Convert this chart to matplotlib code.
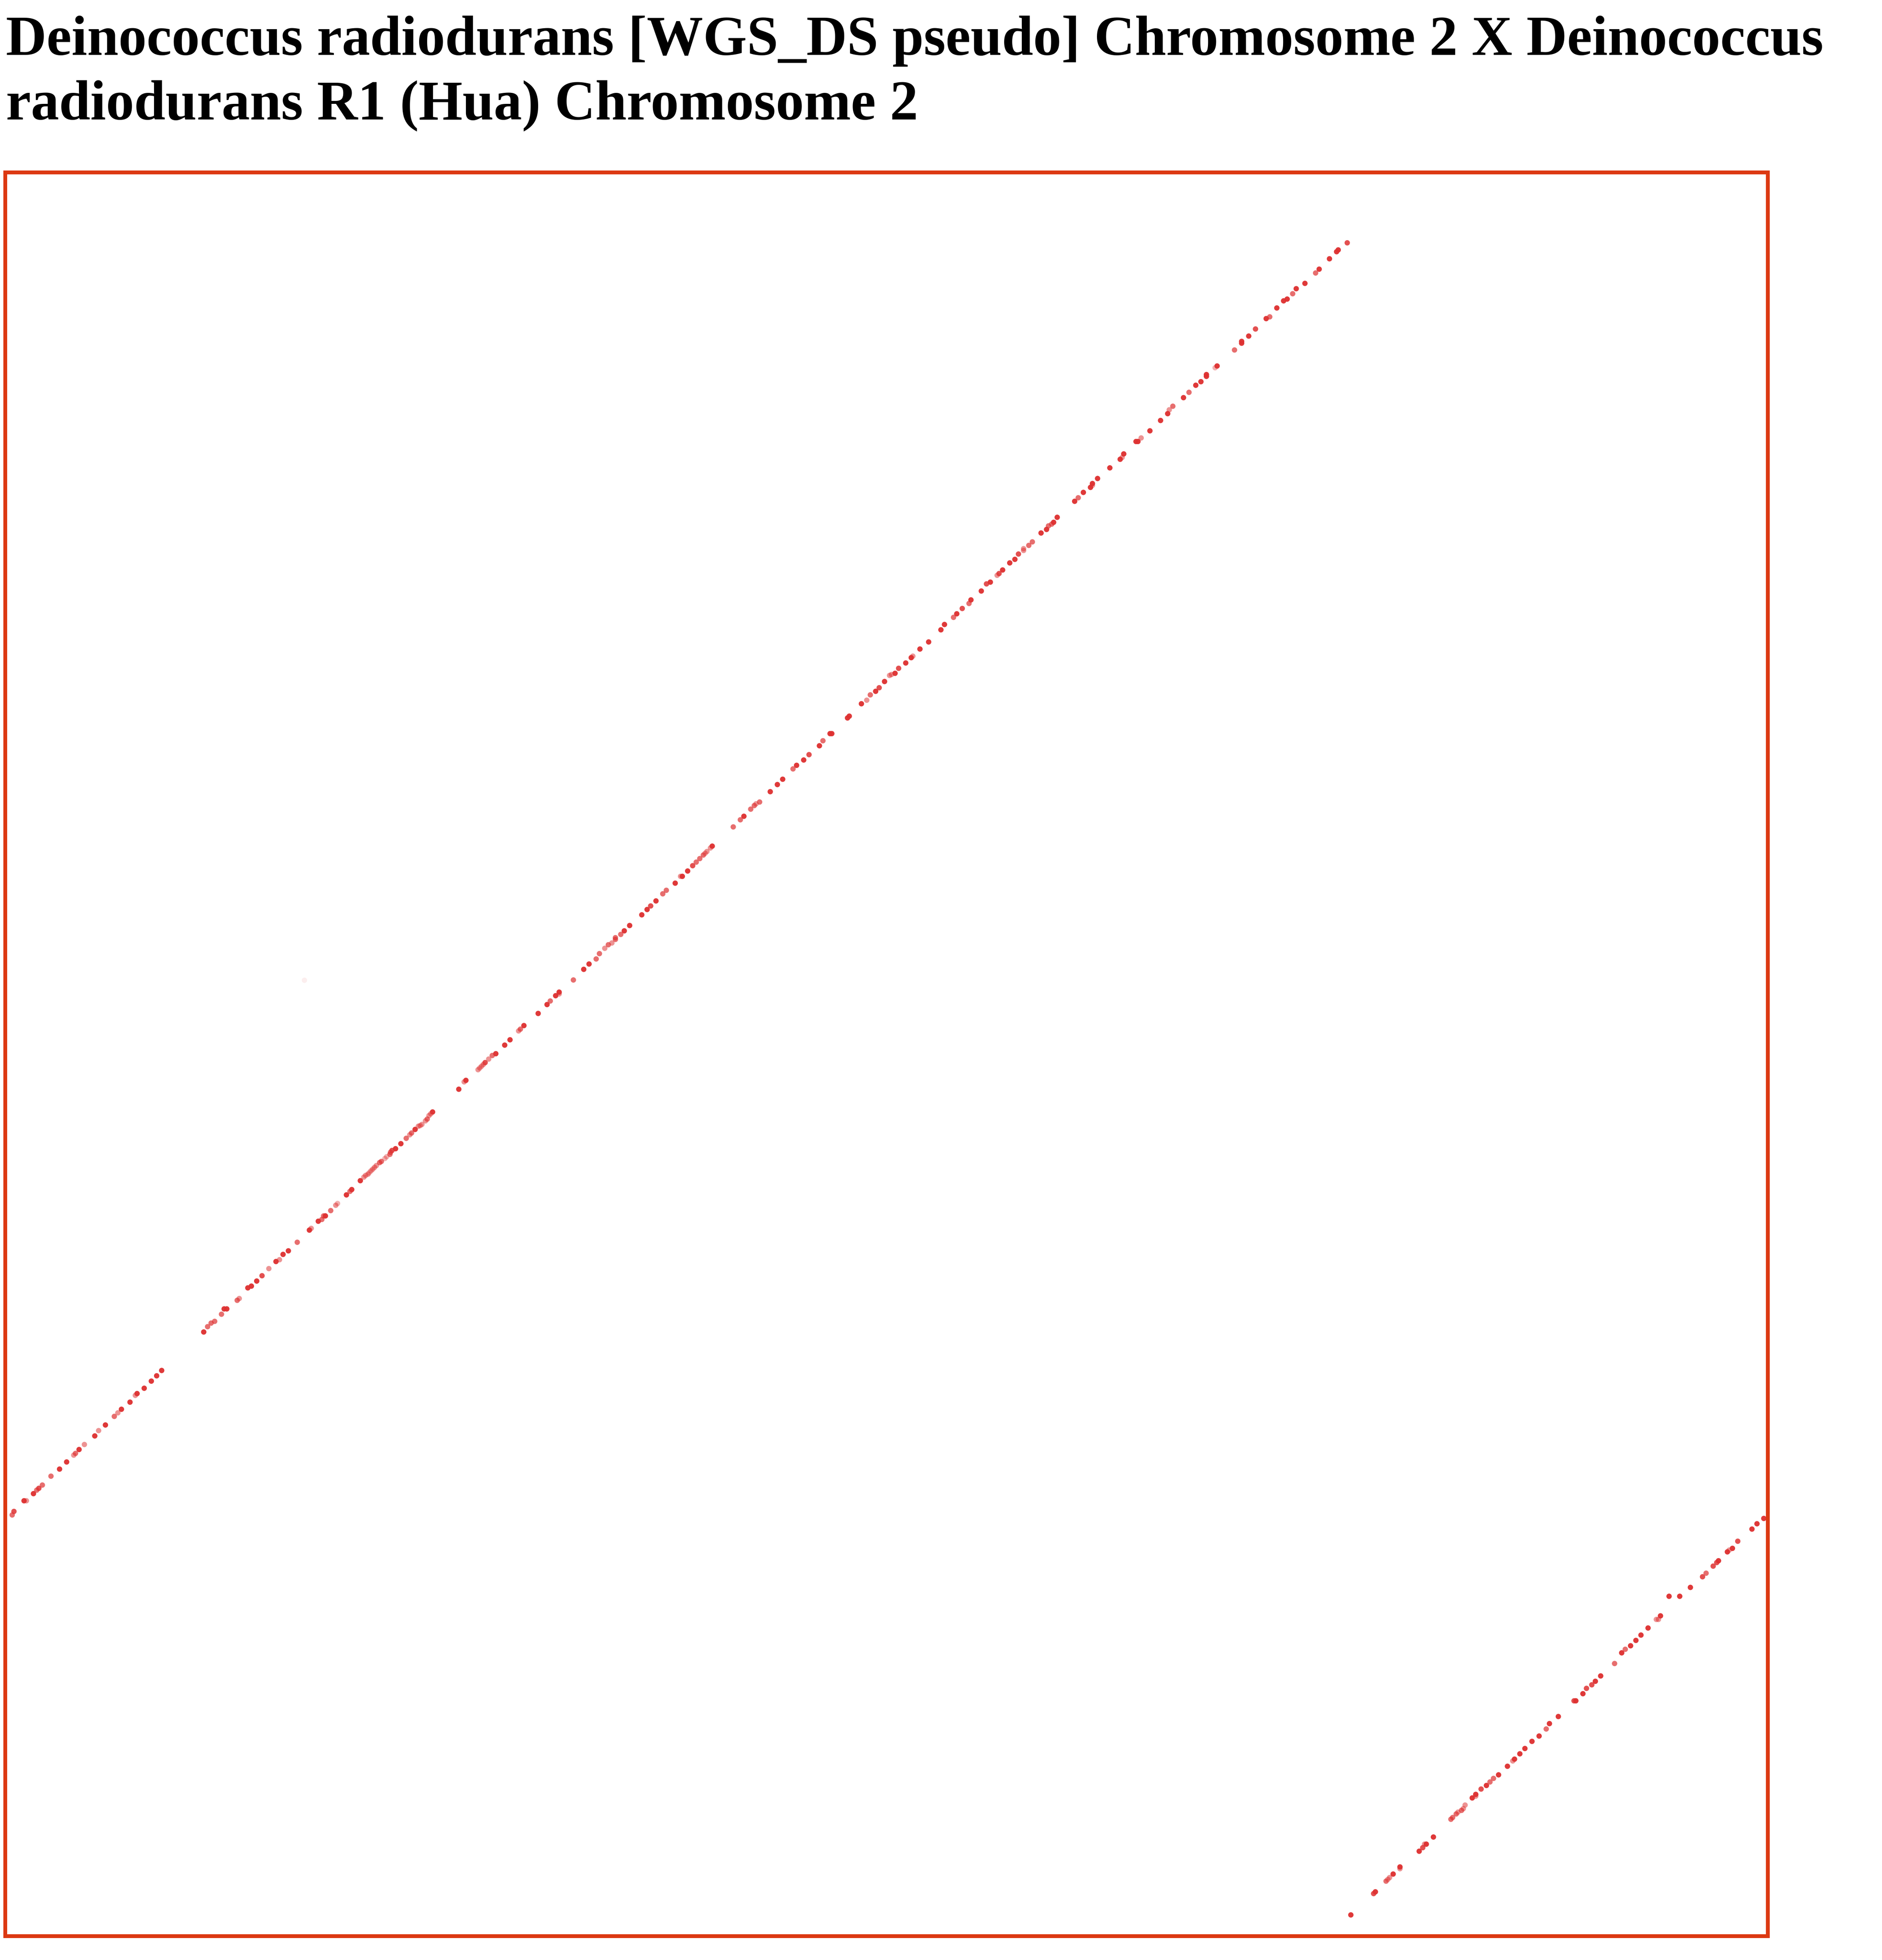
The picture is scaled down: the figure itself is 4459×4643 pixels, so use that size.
import numpy as np
import matplotlib
matplotlib.use("Agg")
from matplotlib import pyplot as plt

title_lines = ["Deinococcus radiodurans [WGS_DS pseudo] Chromosome 2 X Deinococcus",
               "radiodurans R1 (Hua) Chromosome 2"]

# axis extents in kb (query on x, reference on y)
x_len_kb = 410.8
y_len_kb = 411.0

# long syntenic block, part 1 (kb)
blk1_x = [1.66, 2.07, 4.42, 4.97, 6.62, 7.38, 7.87, 8.69, 10.70, 12.70, 14.35, 16.01, 16.42, 17.25, 18.49,
          20.91, 21.80, 23.39, 25.46, 26.29, 27.12, 29.12, 30.36, 30.77, 32.43, 34.09, 35.33, 36.50, 46.30,
          47.20, 48.02, 48.85, 50.44, 51.06, 51.68, 54.10, 54.58, 56.58, 57.41, 58.65, 59.89, 61.48, 63.14,
          63.96, 64.79, 66.03, 68.10, 70.93, 71.35, 73.00, 73.83, 74.24, 74.66, 75.90, 77.07, 77.49, 79.56,
          80.39, 80.80, 82.80, 83.63, 84.04, 84.59, 84.87, 85.28, 85.70, 86.11, 86.53, 87.29, 87.70, 88.53,
          88.94, 89.70, 89.84, 90.18, 91.01, 92.25, 93.50, 94.32, 94.74, 95.57, 96.32, 96.74, 97.15, 97.98,
          98.39, 98.81, 99.22, 99.64]
blk1_y = [98.10, 98.93, 101.41, 101.41, 103.07, 103.89, 104.31, 105.07, 107.14, 108.79, 110.45, 112.04,
          112.45, 113.35, 114.52, 116.52, 117.76, 119.07, 121.07, 121.90, 122.73, 124.39, 125.97, 126.39,
          127.63, 129.29, 130.53, 131.77, 140.74, 141.98, 142.81, 143.22, 144.88, 146.12, 146.12, 148.12,
          148.54, 151.02, 151.43, 152.61, 153.85, 155.51, 157.16, 157.58, 158.82, 159.65, 161.65, 164.48,
          164.89, 166.55, 166.96, 167.79, 167.79, 169.03, 170.27, 170.69, 172.69, 173.51, 173.93, 176.00,
          176.83, 177.24, 177.52, 177.86, 178.28, 178.69, 179.10, 179.52, 180.21, 180.48, 181.17, 181.59,
          182.14, 182.62, 183.04, 183.45, 184.62, 185.87, 186.69, 187.11, 187.94, 188.69, 188.83, 189.11,
          189.94, 190.35, 191.18, 191.59, 192.01]
blk1_id = [92, 96, 99, 88, 99, 92, 96, 92, 92, 99, 99, 88, 92, 99, 88, 99, 88, 99, 92, 88,
           99, 99, 88, 99, 99, 99, 99, 99, 99, 92, 92, 92, 92, 99, 99, 92, 88, 99, 99, 99,
           96, 88, 99, 88, 99, 99, 92, 99, 88, 99, 92, 92, 99, 92, 88, 85, 99, 92, 99, 99,
           88, 88, 88, 85, 88, 88, 88, 88, 92, 92, 85, 85, 92, 92, 96, 99, 99, 92, 88, 92,
           99, 88, 88, 88, 88, 92, 88, 88, 99]

# part 2
blk2_x = [105.75, 107.00, 107.41, 110.24, 110.65, 111.07, 111.48, 111.89, 112.72, 113.55, 114.38, 116.45,
          117.69, 119.69, 120.11, 120.93, 124.25, 126.32, 127.07, 128.32, 129.14, 129.14, 132.46, 134.87,
          136.11, 137.77, 138.53, 139.77, 140.60, 141.43, 142.25, 142.25, 143.50, 144.32, 145.57, 148.40,
          149.64, 150.47, 151.71, 153.29, 154.12, 156.19, 157.43, 157.85, 159.09, 160.26, 161.09, 161.92,
          162.75, 163.16, 163.58, 164.40, 164.82, 169.72, 171.37, 172.20, 173.79, 174.62, 175.03, 175.86,
          178.34, 180.00, 181.24, 183.65, 184.48, 186.14, 187.38, 189.80, 190.62, 192.28, 192.69, 196.35,
          196.76, 199.59, 200.83, 201.66, 202.91, 203.73, 204.98]
blk2_y = [197.31, 199.03, 199.38, 201.86, 202.27, 202.69, 203.10, 203.52, 204.34, 205.17, 205.59, 207.59,
          208.83, 210.90, 211.31, 212.14, 214.97, 217.04, 217.87, 219.11, 219.52, 219.94, 222.77, 225.25,
          226.49, 227.67, 228.91, 230.15, 230.98, 231.39, 232.22, 232.63, 233.39, 234.22, 235.46, 237.95,
          239.19, 240.02, 241.19, 242.85, 243.67, 245.33, 246.92, 246.92, 248.16, 249.40, 250.23, 251.06,
          251.89, 252.30, 252.71, 253.54, 253.96, 258.44, 260.10, 260.92, 262.58, 263.41, 263.82, 264.24,
          266.65, 268.31, 269.55, 271.96, 272.79, 274.03, 275.28, 277.35, 278.52, 280.18, 280.18, 283.83,
          284.25, 287.14, 287.97, 289.21, 290.04, 290.87, 292.32]
blk2_id = [99, 88, 99, 88, 88, 88, 88, 96, 88, 92, 99, 99, 99, 88, 92, 99, 99, 99, 92, 99,
           88, 99, 92, 99, 99, 92, 92, 88, 92, 88, 92, 92, 92, 99, 99, 99, 99, 96, 99, 92,
           92, 99, 88, 99, 99, 96, 92, 92, 92, 88, 88, 88, 99, 92, 92, 99, 92, 92, 88, 92,
           99, 99, 99, 92, 99, 99, 96, 99, 92, 99, 99, 99, 99, 99, 88, 92, 99, 96, 99]

# part 3
blk3_x = [206.15, 206.60, 207.43, 208.26, 209.92, 211.20, 211.57, 213.23, 215.26, 218.12, 218.95, 221.06,
          221.81, 223.09, 224.67, 225.12, 227.53, 228.74, 229.64, 231.22, 231.67, 232.50, 234.16, 235.36,
          236.19, 237.39, 237.39, 238.60, 239.43, 241.46, 242.74, 243.19, 243.94, 244.39, 245.22, 249.29,
          250.12, 251.32, 252.98, 253.43, 253.43, 254.63, 257.49, 259.90, 260.35, 260.73, 263.59, 264.04,
          264.79, 266.83, 269.31, 270.97, 271.34, 272.17, 274.66, 275.94, 277.52, 278.72, 280.00, 280.00,
          282.03, 282.49, 286.55, 288.21, 288.21, 289.86, 291.44, 293.93, 294.76, 296.41, 297.99, 298.82,
          300.10, 300.93, 302.96, 305.45, 306.28, 308.68, 310.34, 310.72, 312.82]
blk3_y = [293.74, 293.95, 294.23, 295.40, 296.64, 297.88, 298.23, 299.89, 301.54, 304.37, 305.61, 307.27,
          308.10, 309.34, 310.51, 311.34, 313.41, 315.07, 315.48, 317.07, 317.48, 318.31, 319.96, 320.79,
          322.03, 322.86, 323.28, 324.04, 324.86, 326.93, 327.76, 328.59, 329.00, 329.42, 330.59, 334.32,
          335.14, 336.39, 337.56, 338.04, 338.46, 339.63, 342.11, 344.11, 344.53, 345.36, 348.25, 348.25,
          349.08, 350.74, 353.15, 354.74, 355.64, 356.47, 358.47, 359.71, 361.36, 362.19, 363.43, 363.85,
          365.44, 365.85, 369.58, 371.16, 371.58, 372.82, 374.47, 376.89, 377.30, 379.37, 381.03, 381.44,
          382.69, 383.86, 385.10, 387.52, 388.41, 390.83, 392.48, 392.90, 394.55]
blk3_id = [88, 88, 99, 96, 99, 99, 88, 99, 99, 99, 99, 92, 99, 96, 92, 99, 99, 96, 99, 88,
           96, 99, 99, 99, 96, 88, 88, 92, 92, 99, 99, 92, 92, 99, 99, 99, 92, 99, 99, 88,
           99, 99, 99, 99, 88, 99, 99, 99, 88, 99, 99, 99, 88, 92, 99, 92, 99, 99, 99, 99,
           85, 99, 92, 99, 99, 99, 96, 99, 92, 99, 99, 99, 92, 99, 99, 92, 99, 99, 99, 99,
           96]

# wrapped block across the origin (kb)
wrap_x = [313.66, 318.97, 319.38, 321.87, 322.28, 322.69, 323.52, 325.11, 325.11, 329.59, 330.42, 330.84,
          331.25, 332.91, 336.98, 337.39, 338.22, 338.63, 339.46, 339.88, 340.29, 341.95, 342.77, 342.77,
          344.02, 345.26, 346.09, 346.91, 348.09, 350.16, 351.40, 351.81, 353.05, 354.23, 355.88, 357.54,
          359.20, 359.95, 362.02, 365.68, 366.10, 367.75, 368.58, 369.82, 370.65, 371.89, 375.13, 376.79,
          377.62, 378.86, 380.10, 381.28, 382.93, 384.86, 385.35, 385.83, 387.83, 390.31, 392.80, 395.63,
          396.46, 398.11, 398.94, 399.35, 401.42, 401.84, 402.60, 403.84, 407.15, 408.32, 409.91]
wrap_y = [4.90, 9.87, 10.28, 12.77, 13.18, 13.60, 14.42, 15.67, 16.08, 19.74, 20.57, 21.39, 21.39, 23.05,
          27.19, 27.60, 28.43, 28.85, 29.26, 29.67, 30.50, 32.16, 32.57, 32.99, 34.23, 35.06, 35.88, 36.71,
          37.54, 39.54, 40.78, 41.20, 42.44, 43.68, 45.34, 46.58, 48.23, 49.48, 51.13, 54.79, 54.79, 56.45,
          57.69, 58.52, 59.34, 60.59, 63.48, 65.97, 66.80, 67.62, 68.87, 70.11, 71.76, 73.76, 73.76, 74.59,
          79.15, 79.15, 81.22, 83.70, 84.53, 86.18, 87.01, 87.43, 89.50, 89.91, 90.32, 91.98, 94.81, 96.05,
          97.29]
wrap_id = [99, 96, 99, 92, 88, 88, 99, 88, 99, 99, 96, 88, 99, 99, 92, 92, 92, 88, 92, 88,
           88, 99, 88, 99, 96, 99, 92, 92, 99, 99, 88, 99, 99, 99, 99, 99, 92, 99, 99, 96,
           99, 99, 96, 96, 99, 99, 92, 99, 92, 99, 99, 99, 99, 88, 88, 99, 99, 99, 99, 96,
           92, 96, 96, 99, 99, 88, 99, 96, 99, 99, 99]

# lone weak hit
stray_x = [69.77]
stray_y = [222.7]
stray_id = [70]

dot_color = "#de3131"
frame_color = "#dc3912"

x = np.array(blk1_x + blk2_x + blk3_x + wrap_x + stray_x)
y = np.array(blk1_y + blk2_y + blk3_y + wrap_y + stray_y)
ident = np.array(blk1_id + blk2_id + blk3_id + wrap_id + stray_id)
alphas = np.interp(ident, [70, 85, 88, 92, 96, 99], [0.08, 0.38, 0.52, 0.7, 0.85, 0.96])

W, H = 4459, 4643
fig = plt.figure(figsize=(W / 100, H / 100), dpi=100)

# title, two lines, bold serif
for i, line in enumerate(title_lines):
    fig.text(14 / W, 1 - (130 + 153 * i) / H, line, family="Liberation Serif", weight="bold",
             fontsize=96, va="baseline", ha="left")

left, right, top, bottom = 12, 4188, 408, 4586
ax = fig.add_axes([left / W, 1 - bottom / H, (right - left) / W, (bottom - top) / H])
ax.scatter(x, y, s=84, c=dot_color, alpha=alphas, edgecolors="none")
ax.set_xlim(0, x_len_kb)
ax.set_ylim(0, y_len_kb)
ax.set_xticks([])
ax.set_yticks([])
for sp in ax.spines.values():
    sp.set_color(frame_color)
    sp.set_linewidth(6.5)

fig.savefig("out.png", dpi=100, facecolor="white")
